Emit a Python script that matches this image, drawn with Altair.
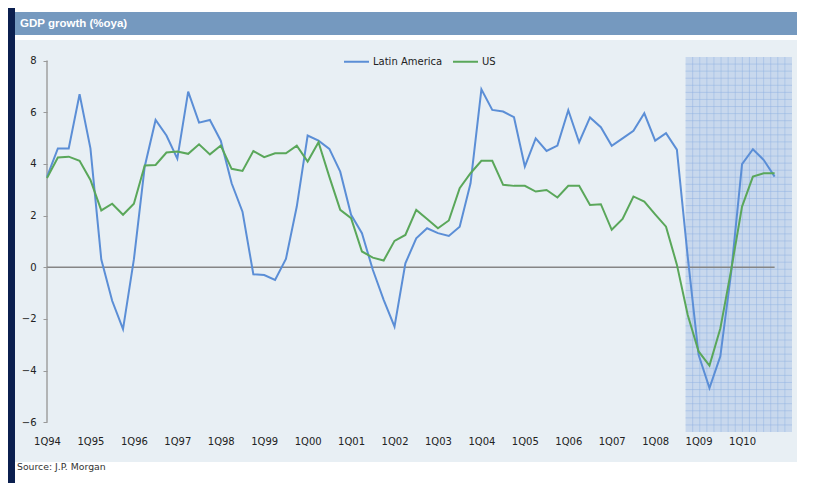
import altair as alt
import pandas as pd
import numpy as np

# ---- data ----
latam = [3.5, 4.6, 4.6, 6.7, 4.6, 0.3, -1.3, -2.4, 0.3, 3.9, 5.7, 5.1, 4.2, 6.8, 5.6, 5.7,
         4.9, 3.25, 2.15, -0.27, -0.3, -0.49, 0.32, 2.35, 5.1, 4.9, 4.58, 3.7, 2.03, 1.32, -0.1, -1.26,
         -2.3, 0.15, 1.12, 1.51, 1.32, 1.21, 1.57, 3.25, 6.89, 6.09, 6.03, 5.81, 3.9, 4.99, 4.5, 4.71,
         6.08, 4.84, 5.8, 5.42, 4.7, 4.99, 5.28, 5.96, 4.9, 5.19, 4.55, 0.4, -3.39, -4.68, -3.45, -0.2,
         3.99, 4.57, 4.15, 3.51]
us = [3.45, 4.25, 4.28, 4.12, 3.38, 2.2, 2.46, 2.03, 2.46, 3.94, 3.96, 4.44, 4.48, 4.39, 4.76, 4.37,
      4.71, 3.81, 3.73, 4.5, 4.26, 4.41, 4.41, 4.71, 4.09, 4.84, 3.5, 2.22, 1.9, 0.61, 0.37, 0.26,
      1.02, 1.25, 2.22, 1.87, 1.51, 1.81, 3.06, 3.64, 4.12, 4.12, 3.19, 3.15, 3.15, 2.93, 2.99, 2.7,
      3.15, 3.15, 2.41, 2.44, 1.45, 1.87, 2.74, 2.54, 2.05, 1.57, 0.1, -1.85, -3.26, -3.81, -2.37, -0.1,
      2.35, 3.51, 3.64, 3.64]
series_names = ["Latin America", "US"]
x_tick_labels = ["1Q94", "1Q95", "1Q96", "1Q97", "1Q98", "1Q99", "1Q00", "1Q01", "1Q02",
                 "1Q03", "1Q04", "1Q05", "1Q06", "1Q07", "1Q08", "1Q09", "1Q10"]
y_ticks = [-6, -4, -2, 0, 2, 4, 6, 8]
title_text = "GDP growth (%oya)"
source_text = "Source: J.P. Morgan"

# ---- frames ----
n = len(latam)
df = pd.DataFrame({
    "q": list(range(n)) * 2,
    "value": latam + us,
    "series": [series_names[0]] * n + [series_names[1]] * n,
})

W, H = 745, 375
XDOM = [0, 68.6]
YDOM = [-6.38, 8.14]
band_x0, band_x1 = 58.8, 68.6

xs = alt.Scale(domain=XDOM, nice=False, zero=False)
ys = alt.Scale(domain=YDOM, nice=False, zero=False)

label_arr = "[" + ",".join(f"'{l}'" for l in x_tick_labels) + "]"
x_axis = alt.Axis(values=[4 * i for i in range(len(x_tick_labels))],
                  labelExpr=label_arr + "[round(datum.value/4)]",
                  domain=False, ticks=False, grid=False, labelPadding=4, labelFlush=False,
                  labelFontSize=10, labelColor="#222", title=None, zindex=1)
y_axis = alt.Axis(values=y_ticks, domain=False, grid=False, tickColor="#999",
                  tickSize=4, labelPadding=7, labelFontSize=10, labelColor="#222", title=None,
                  labelFlush=False, zindex=1)

base = alt.Chart(pd.DataFrame({"a": [0]}))

# decorative background panels (pixel-positioned)
strip = base.mark_rect(color="#0b1f4f").encode(
    x=alt.value(-39), x2=alt.value(-32), y=alt.value(-49), y2=alt.value(426))
panel = base.mark_rect(color="#e8eff4").encode(
    x=alt.value(-32), x2=alt.value(750), y=alt.value(-17), y2=alt.value(405))
header = base.mark_rect(color="#7599bf").encode(
    x=alt.value(-32), x2=alt.value(750), y=alt.value(-45), y2=alt.value(-22))
title = base.mark_text(text=title_text, color="white", fontSize=11.5, fontWeight="bold",
                       font="Liberation Sans", align="left", baseline="middle").encode(
    x=alt.value(-27), y=alt.value(-33))
source = base.mark_text(text=source_text, color="#333", fontSize=9.3,
                        align="left", baseline="middle").encode(
    x=alt.value(-30), y=alt.value(410))

# forecast band with grid
band_df = pd.DataFrame({"x": [band_x0], "x2": [band_x1], "y": [YDOM[0]], "y2": [YDOM[1]]})
band = alt.Chart(band_df).mark_rect(color="#c8d8ed").encode(
    x=alt.X("x:Q", scale=xs, axis=x_axis), x2="x2", y=alt.Y("y:Q", scale=ys, axis=y_axis), y2="y2")
vgrid = alt.Chart(pd.DataFrame({"x": np.linspace(band_x0, band_x1, 16)[1:-1]})).mark_rule(
    color="#8fb0e2", strokeWidth=0.8, opacity=0.6).encode(
    x=alt.X("x:Q", scale=xs), y=alt.value(0), y2=alt.value(H))
hgrid = alt.Chart(pd.DataFrame({"y": np.linspace(YDOM[0], YDOM[1], 54)[1:-1]})).mark_rule(
    color="#8fb0e2", strokeWidth=0.8, opacity=0.6).encode(
    y=alt.Y("y:Q", scale=ys), x=alt.X("x0:Q", scale=xs), x2="x1:Q").transform_calculate(
    x0=str(band_x0), x1=str(band_x1))

# y axis line and zero line
yline = alt.Chart(pd.DataFrame({"x": [0], "y": [y_ticks[0]], "y2": [y_ticks[-1]]})).mark_rule(
    color="#a0a0a0", strokeWidth=1.5).encode(x=alt.X("x:Q", scale=xs), y=alt.Y("y:Q", scale=ys), y2="y2")
zline = alt.Chart(pd.DataFrame({"x": [0], "x2": [n - 1], "y": [0]})).mark_rule(
    color="#858585", strokeWidth=1.5).encode(x=alt.X("x:Q", scale=xs), x2="x2", y=alt.Y("y:Q", scale=ys))

lines = alt.Chart(df).mark_line(strokeWidth=2).encode(
    x=alt.X("q:Q", scale=xs),
    y=alt.Y("value:Q", scale=ys),
    color=alt.Color("series:N",
                    scale=alt.Scale(domain=series_names, range=["#5b8ed6", "#5aa75a"]),
                    legend=alt.Legend(orient="none", legendX=296, legendY=-9, direction="horizontal",
                                      title=None, symbolType="stroke", symbolSize=625,
                                      symbolStrokeWidth=2, labelFontSize=10, labelColor="#222",
                                      labelOffset=3, columnPadding=6)),
)

chart = alt.layer(strip, panel, header, title, source, band, vgrid, hgrid, yline, zline, lines).properties(
    width=W, height=H,
    padding={"left": 39, "top": 49, "right": 27, "bottom": 51},
    autosize=alt.AutoSizeParams(type="none"),
    background="white",
).configure_view(stroke=None).configure(font="DejaVu Sans")

chart.save("out.html", embed_options={"renderer": "svg", "actions": False})
